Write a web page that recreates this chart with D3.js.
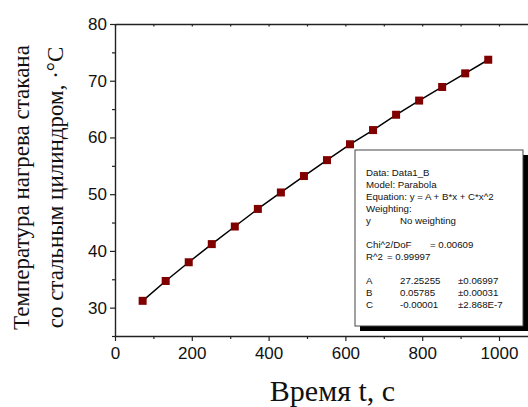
<!DOCTYPE html>
<html>
<head>
<meta charset="utf-8">
<script src="https://cdn.jsdelivr.net/npm/d3@7"></script>
<style>
  body { margin: 0; background: #fff; }
  svg { display: block; }
  .tick text { font-family: "Liberation Sans", Arial, sans-serif; font-size: 17px; fill: #111; }
</style>
</head>
<body>
<div id="chart"></div>
<script>
// time, s
const times = [72, 132, 192, 252, 312, 372, 432, 492, 552, 612, 672, 732, 792, 852, 912, 972];
// temperature, °C
const temps = [31.2, 34.7, 38.0, 41.2, 44.3, 47.4, 50.3, 53.2, 56.0, 58.8, 61.3, 64.0, 66.5, 68.9, 71.3, 73.7];

const xTicks = [0, 200, 400, 600, 800, 1000];
const yTicks = [30, 40, 50, 60, 70, 80];

const fitLines = [
  ["Data: Data1_B"],
  ["Model: Parabola"],
  ["Equation: y = A + B*x + C*x^2"],
  ["Weighting:"],
  ["y", "No weighting"],
  [],
  ["Chi^2/DoF", "= 0.00609"],
  ["R^2", "=  0.99997"],
  [],
  ["A", "27.25255", "±0.06997"],
  ["B", "0.05785", "±0.00031"],
  ["C", "-0.00001", "±2.868E-7"]
];

const W = 528, H = 407;
const svg = d3.select("#chart").append("svg").attr("width", W).attr("height", H);
svg.append("rect").attr("width", W).attr("height", H).attr("fill", "#fff");

const x = d3.scaleLinear().domain([0, 1100]).range([115, 537.4]);
const y = d3.scaleLinear().domain([25, 80]).range([336, 24]);

const axisColor = "#222";

// minor ticks
svg.append("g")
  .attr("transform", `translate(0,${y(25)})`)
  .call(d3.axisBottom(x).tickValues([100, 300, 500, 700, 900, 1100]).tickSize(3).tickFormat("").tickSizeOuter(0))
  .call(g => g.select(".domain").remove());
svg.append("g")
  .attr("transform", `translate(${x(0)},0)`)
  .call(d3.axisLeft(y).tickValues([25, 35, 45, 55, 65, 75]).tickSize(3).tickFormat("").tickSizeOuter(0))
  .call(g => g.select(".domain").remove());

// top axis, ticks inward
svg.append("g")
  .attr("transform", `translate(0,${y(80)})`)
  .call(d3.axisBottom(x).tickValues(d3.range(0, 1101, 100)).tickSize(2.5).tickFormat("").tickSizeOuter(0));

// main axes
svg.append("g")
  .attr("transform", `translate(0,${y(25)})`)
  .call(d3.axisBottom(x).tickValues(xTicks).tickFormat(d3.format("d")).tickSize(5).tickPadding(6).tickSizeOuter(0));
svg.append("g")
  .attr("transform", `translate(${x(0)},0)`)
  .call(d3.axisLeft(y).tickValues(yTicks).tickSize(5).tickPadding(3).tickSizeOuter(0));

svg.selectAll(".domain").attr("stroke", axisColor).attr("stroke-width", 1.4);
svg.selectAll(".tick line").attr("stroke", axisColor).attr("stroke-width", 1.2);

// line through data
const line = d3.line().x((d, i) => x(times[i])).y(d => y(d));
svg.append("path")
  .datum(temps)
  .attr("fill", "none")
  .attr("stroke", "#000")
  .attr("stroke-width", 1.5)
  .attr("d", line);

// markers
const ms = 8;
svg.selectAll(".pt")
  .data(temps)
  .enter()
  .append("rect")
  .attr("class", "pt")
  .attr("x", (d, i) => x(times[i]) - ms / 2)
  .attr("y", d => y(d) - ms / 2)
  .attr("width", ms)
  .attr("height", ms)
  .attr("fill", "#800000");

// fit result box
const bx = 355, by = 150, bw = 168, bh = 176;
svg.append("rect").attr("x", bx + 5).attr("y", by + 5).attr("width", bw).attr("height", bh).attr("fill", "#000");
svg.append("rect").attr("x", bx).attr("y", by).attr("width", bw).attr("height", bh)
  .attr("fill", "#fff").attr("stroke", "#444").attr("stroke-width", 1);

const colX = [366, 400, 458];
const box = svg.append("g")
  .style("font-family", "'Liberation Sans', Arial, sans-serif")
  .style("font-size", "9.7px")
  .attr("fill", "#111");
fitLines.forEach((row, i) => {
  row.forEach((t, j) => {
    let cx = colX[j];
    if (i === 6 && j === 1) cx = 430;
    if (i === 7 && j === 1) cx = 387;
    box.append("text").attr("x", cx).attr("y", 176 + i * 12).text(t);
  });
});

// axis titles
svg.append("text")
  .attr("x", 332.5).attr("y", 400.5)
  .attr("text-anchor", "middle")
  .style("font-family", "'Liberation Serif', 'Times New Roman', serif")
  .style("font-size", "30px")
  .attr("fill", "#111")
  .text("Время t, с");

const yt = svg.append("g")
  .attr("transform", "translate(0,187.5) rotate(-90)")
  .style("font-family", "'Liberation Serif', 'Times New Roman', serif")
  .style("font-size", "23px")
  .attr("fill", "#111")
  .attr("text-anchor", "middle");
yt.append("text").attr("x", 0).attr("y", 29).text("Температура нагрева стакана");
yt.append("text").attr("x", 0).attr("y", 63).text("со стальным цилиндром, ·°С");
</script>
</body>
</html>
